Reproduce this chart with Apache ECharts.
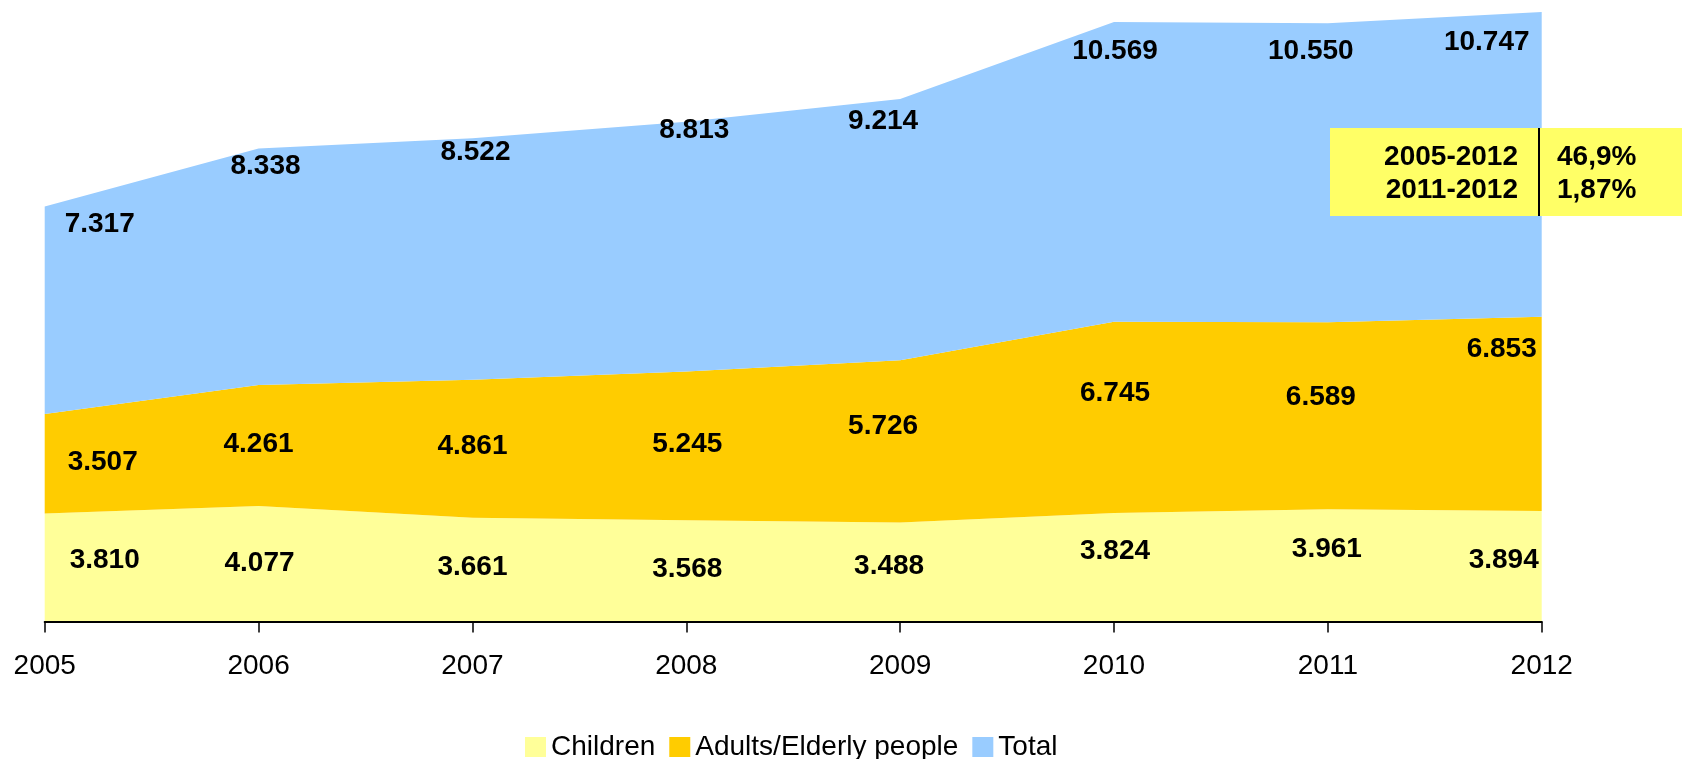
<!DOCTYPE html>
<html>
<head>
<meta charset="utf-8">
<script src="https://cdn.jsdelivr.net/npm/echarts@6/dist/echarts.min.js"></script>
<style>
  html, body { margin: 0; padding: 0; background: #ffffff; }
  #chart { width: 1682px; height: 759px; }
</style>
</head>
<body>
<div id="chart"></div>
<script>
// ---- data ----
const years = ['2005', '2006', '2007', '2008', '2009', '2010', '2011', '2012'];
const children = [3.810, 4.077, 3.661, 3.568, 3.488, 3.824, 3.961, 3.894];
const adults = [3.507, 4.261, 4.861, 5.245, 5.726, 6.745, 6.589, 6.853];
const total = [7.317, 8.338, 8.522, 8.813, 9.214, 10.569, 10.550, 10.747];
const seriesNames = ['Children', 'Adults/Elderly people', 'Total'];
const periods = ['2005-2012', '2011-2012'];
const growth = ['46,9%', '1,87%'];

// ---- label nudges (pixels), kept apart from the data ----
const childNudgeX = [60, 1, 0, 1, -11, 1, -1, -38];
const childNudgeY = [-7, 0, -2, -2, -6, -16, -16, -6];
const adultNudgeX = [58, 0, 0, 1, -17, 1, -7, -40];
const adultNudgeY = [-1, -1, -2, -2, -15, -24, -18, -65];
const totalNudgeX = [55, 7, 3, 8, -17, 1, -17, -55];
const totalNudgeY = [18, 18, 14, 9, 22, 29, 28, 30];

const colors = ['#FFFF99', '#FFCC00', '#99CCFF'];
const FONT = 'Liberation Sans, Arial, sans-serif';

const fmt = v => v.toFixed(3);

// anchors derived from data (through the value axis)
const childMid = children.map(v => v / 2);
const adultMid = adults.map((v, i) => children[i] + v / 2);
const totalTop = total.map((v, i) => children[i] + adults[i] + v);

function labelSeries(anchor, values, nx, ny) {
  return {
    type: 'scatter',
    silent: true,
    symbolSize: 1,
    itemStyle: { color: 'rgba(0,0,0,0)', opacity: 1 },
    z: 5,
    data: anchor.map((a, i) => ({
      value: [i, a],
      label: { offset: [nx[i], ny[i]] }
    })),
    label: {
      show: true,
      position: 'inside',
      color: '#000000',
      opacity: 1,
      textBorderWidth: 0,
      textBorderColor: 'transparent',
      textShadowBlur: 0,
      fontFamily: FONT,
      fontWeight: 'bold',
      fontSize: 28,
      formatter: p => fmt(values[p.dataIndex])
    },
    emphasis: { disabled: true }
  };
}

const chart = echarts.init(document.getElementById('chart'), null, { renderer: 'canvas' });

const areaSeries = [children, adults, total].map((d, k) => ({
  name: seriesNames[k],
  type: 'line',
  stack: 'all',
  data: d,
  symbol: 'none',
  showSymbol: false,
  lineStyle: { width: 0 },
  itemStyle: { color: colors[k] },
  areaStyle: { color: colors[k], opacity: 1 },
  silent: true
}));

const option = {
  animation: false,
  backgroundColor: '#ffffff',
  color: colors,
  grid: { left: 44.7, right: 140.3, top: 12, bottom: 137.5, containLabel: false },
  legend: {
    data: seriesNames.map(n => ({ name: n, icon: 'rect' })),
    left: 520,
    top: 728,
    itemWidth: 21,
    itemHeight: 20,
    itemGap: 14,
    textStyle: { fontFamily: FONT, fontSize: 28, color: '#000' },
    selectedMode: false
  },
  xAxis: {
    type: 'category',
    data: years,
    boundaryGap: false,
    axisLine: { show: true, lineStyle: { color: '#000', width: 2 } },
    axisTick: { show: true, length: 11, lineStyle: { color: '#000', width: 1.5 }, alignWithLabel: true },
    axisLabel: { fontFamily: FONT, fontSize: 28, color: '#000', margin: 31 },
    splitLine: { show: false },
    z: 10
  },
  yAxis: {
    type: 'value',
    min: 0,
    max: 'dataMax',
    show: false,
    splitLine: { show: false }
  },
  series: [
    ...areaSeries,
    labelSeries(childMid, children, childNudgeX, childNudgeY),
    labelSeries(adultMid, adults, adultNudgeX, adultNudgeY),
    labelSeries(totalTop, total, totalNudgeX, totalNudgeY)
  ],
  graphic: [
    {
      type: 'rect', z: 100,
      shape: { x: 1330, y: 128, width: 352, height: 88 },
      style: { fill: '#FFFF66' }
    },
    {
      type: 'line', z: 101,
      shape: { x1: 1539, y1: 128, x2: 1539, y2: 216 },
      style: { stroke: '#000', lineWidth: 2 }
    },
    ...periods.map((t, i) => ({
      type: 'text', z: 102,
      x: 1518, y: 157 + i * 33,
      style: { text: t, fill: '#000', font: 'bold 28px ' + FONT, textAlign: 'right', textVerticalAlign: 'middle' }
    })),
    ...growth.map((t, i) => ({
      type: 'text', z: 102,
      x: 1557, y: 157 + i * 33,
      style: { text: t, fill: '#000', font: 'bold 28px ' + FONT, textAlign: 'left', textVerticalAlign: 'middle' }
    }))
  ]
};

chart.setOption(option);
</script>
</body>
</html>
